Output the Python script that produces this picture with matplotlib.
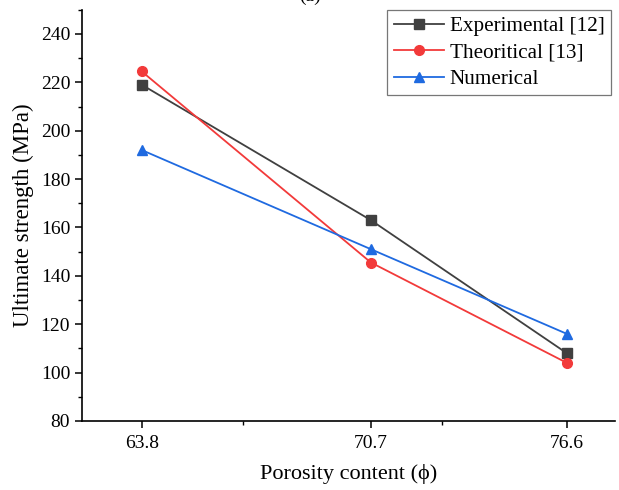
import matplotlib
matplotlib.use("Agg")
import matplotlib.pyplot as plt
from matplotlib.ticker import FixedLocator, MultipleLocator

plt.rcParams['font.family'] = ['Liberation Serif', 'DejaVu Serif']

# Data
porosity = [63.8, 70.7, 76.6]
experimental = [219.0, 163.0, 108.0]
theoretical = [224.5, 145.5, 104.0]
numerical = [192.0, 151.0, 116.0]
x_tick_labels = ['63.8', '70.7', '76.6']

fig = plt.figure(figsize=(6.19, 4.90), dpi=100)
ax = fig.add_axes([0.1325, 0.141, 0.861, 0.839])

ax.plot(porosity, experimental, color='#404040', marker='s', markersize=6.5,
        linewidth=1.3, label='Experimental [12]')
ax.plot(porosity, theoretical, color='#f23a3a', marker='o', markersize=7,
        linewidth=1.3, label='Theoritical [13]')
ax.plot(porosity, numerical, color='#1f6ae0', marker='^', markersize=7.5,
        linewidth=1.3, label='Numerical')

ax.set_xlim(62.0, 78.05)
ax.set_ylim(80, 250)
ax.set_xticks(porosity)
ax.set_xticklabels(x_tick_labels)
ax.xaxis.set_minor_locator(FixedLocator([66.85, 72.85]))
ax.set_yticks(range(80, 241, 20))
ax.yaxis.set_minor_locator(MultipleLocator(10))

ax.spines['top'].set_visible(False)
ax.spines['right'].set_visible(False)
for s in ('left', 'bottom'):
    ax.spines[s].set_linewidth(1.2)

ax.tick_params(which='major', direction='out', length=5, width=1.1,
               labelsize=14, colors='black')
ax.tick_params(which='minor', direction='out', length=3, width=1.0)
ax.tick_params(axis='x', pad=5)

ax.set_xlabel('Porosity content (\u03d5)', fontsize=16, labelpad=9)
ax.set_ylabel('Ultimate strength (MPa)', fontsize=16.5, labelpad=5)

leg = ax.legend(loc='upper right', bbox_to_anchor=(0.992, 1.0), fontsize=15.2,
                frameon=True, fancybox=False, edgecolor='#555555',
                handlelength=2.4, handletextpad=0.25, borderpad=0.3,
                labelspacing=0.32, borderaxespad=0.0)
leg.get_frame().set_linewidth(0.9)

# panel label, cut by the top edge as in the reference
fig.text(0.5, 1.008, '(a)', ha='center', va='center', fontsize=14)

fig.savefig('out.png', dpi=100)
